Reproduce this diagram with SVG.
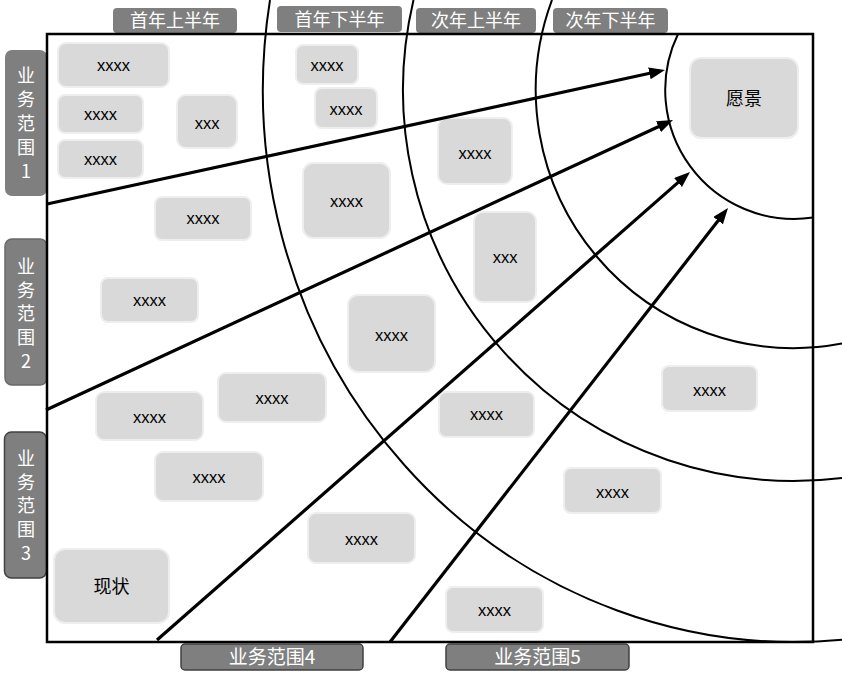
<svg xmlns="http://www.w3.org/2000/svg" width="842" height="678" viewBox="0 0 842 678">
<defs>
<style>
.node rect{fill:#d9d9d9;stroke:#eeeeee;stroke-width:2}
.node text{font-family:"Liberation Sans","Noto Sans CJK SC",sans-serif;font-size:16.5px;fill:#000;text-anchor:middle}
.node text.cn{font-size:18px}
.hdr rect{fill:#7f7f7f}
.hdr text{font-family:"Noto Sans CJK SC","Liberation Sans",sans-serif;font-size:18px;fill:#fff;text-anchor:middle}
.vtx{font-family:"Noto Sans CJK SC","Liberation Sans",sans-serif;font-size:18px;fill:#fff;text-anchor:middle}
.arc{fill:none;stroke:#000;stroke-width:2}
.arr{fill:none;stroke:#000;stroke-width:3.2}
</style>
<marker id="ah" viewBox="0 0 16 12" refX="4" refY="6" markerWidth="16" markerHeight="12" markerUnits="userSpaceOnUse" orient="auto">
<path d="M0,0 L16,6 L0,12 z" fill="#000"/>
</marker>
</defs>
<rect width="842" height="678" fill="#fff"/>

<g id="headers" class="hdr">
<g id="h1"><rect x="113" y="8" width="124" height="25" rx="4"/><text x="175" y="27">首年上半年</text></g>
<g id="h2"><rect x="277" y="6" width="125" height="26" rx="4"/><text x="339.5" y="25.5">首年下半年</text></g>
<g id="h3"><rect x="416" y="8" width="120" height="25" rx="4"/><text x="476" y="27">次年上半年</text></g>
<g id="h4"><rect x="553" y="8" width="115" height="25" rx="4"/><text x="610.5" y="27">次年下半年</text></g>
<g id="r1"><rect x="5" y="50" width="42" height="146" rx="7" fill="#bfbfbf"/>
<text class="vtx"><tspan x="26" y="82">业</tspan><tspan x="26" y="106">务</tspan><tspan x="26" y="130">范</tspan><tspan x="26" y="154">围</tspan><tspan x="26" y="178">1</tspan></text></g>
<g id="r2"><rect x="5" y="239" width="42" height="146" rx="7" fill="#7f7f7f" stroke="#6a6a6a" stroke-width="1.5"/>
<text class="vtx"><tspan x="26" y="272.5">业</tspan><tspan x="26" y="296.5">务</tspan><tspan x="26" y="320">范</tspan><tspan x="26" y="344">围</tspan><tspan x="26" y="368">2</tspan></text></g>
<g id="r3"><rect x="4.5" y="432" width="42" height="146" rx="7" fill="#7f7f7f" stroke="#404040" stroke-width="1.5"/>
<text class="vtx"><tspan x="26" y="464.5">业</tspan><tspan x="26" y="488.5">务</tspan><tspan x="26" y="512">范</tspan><tspan x="26" y="536">围</tspan><tspan x="26" y="560">3</tspan></text></g>
<g id="r4"><rect x="181" y="644" width="182" height="26" rx="4" fill="#7f7f7f" stroke="#404040" stroke-width="1.5"/><text x="272" y="664" style="font-size:19px">业务范围4</text></g>
<g id="r5"><rect x="446" y="644" width="183" height="26" rx="4" fill="#7f7f7f" stroke="#404040" stroke-width="1.5"/><text x="537.5" y="664" style="font-size:19px">业务范围5</text></g>
</g>

<rect id="frame" x="47" y="34" width="766" height="608" fill="none" stroke="#000" stroke-width="2.5"/>

<g id="nodes">
<g id="n1" class="node"><rect x="58" y="43" width="111" height="44" rx="8"/><text x="113.5" y="71">xxxx</text></g>
<g id="n2" class="node"><rect x="58" y="95" width="85" height="38" rx="7"/><text x="100.5" y="120">xxxx</text></g>
<g id="n3" class="node"><rect x="58" y="140" width="85" height="38" rx="7"/><text x="100.5" y="165">xxxx</text></g>
<g id="n4" class="node"><rect x="177" y="95" width="60" height="53" rx="9"/><text x="207" y="129">xxx</text></g>
<g id="n5" class="node"><rect x="296" y="45" width="62" height="39" rx="7"/><text x="327" y="71">xxxx</text></g>
<g id="n6" class="node"><rect x="315" y="88" width="62" height="40" rx="7"/><text x="346" y="115">xxxx</text></g>
<g id="n7" class="node"><rect x="303" y="163" width="87" height="75" rx="10"/><text x="346.5" y="207">xxxx</text></g>
<g id="n8" class="node"><rect x="155" y="197" width="96" height="43" rx="7"/><text x="203" y="224">xxxx</text></g>
<g id="n9" class="node"><rect x="438" y="118" width="74" height="66" rx="9"/><text x="475" y="159">xxxx</text></g>
<g id="n10" class="node"><rect x="474" y="212" width="62" height="90" rx="9"/><text x="505" y="263">xxx</text></g>
<g id="n11" class="node"><rect x="101" y="278" width="97" height="44" rx="7"/><text x="149.5" y="306">xxxx</text></g>
<g id="n12" class="node"><rect x="348" y="295" width="87" height="77" rx="10"/><text x="391.5" y="341">xxxx</text></g>
<g id="n13" class="node"><rect x="96" y="392" width="107" height="48" rx="8"/><text x="149.5" y="423">xxxx</text></g>
<g id="n14" class="node"><rect x="218" y="373" width="108" height="49" rx="8"/><text x="272" y="404">xxxx</text></g>
<g id="n15" class="node"><rect x="155" y="452" width="108" height="49" rx="8"/><text x="209" y="483">xxxx</text></g>
<g id="n16" class="node"><rect x="439" y="392" width="95" height="45" rx="7"/><text x="486.5" y="420">xxxx</text></g>
<g id="n17" class="node"><rect x="662" y="366" width="95" height="45" rx="7"/><text x="709.5" y="396">xxxx</text></g>
<g id="n18" class="node"><rect x="564" y="468" width="97" height="45" rx="7"/><text x="612.5" y="498">xxxx</text></g>
<g id="n19" class="node"><rect x="308" y="513" width="107" height="50" rx="8"/><text x="361.5" y="545">xxxx</text></g>
<g id="n20" class="node"><rect x="446" y="587" width="97" height="45" rx="7"/><text x="494.5" y="616">xxxx</text></g>
<g id="n21" class="node"><rect x="54" y="549" width="115" height="74" rx="11"/><text class="cn" x="111.5" y="593">现状</text></g>
<g id="n22" class="node"><rect x="690" y="58" width="108" height="80" rx="11"/><text class="cn" x="744" y="105">愿景</text></g>
</g>

<g id="connectors">
<path class="arc" d="M678,34 A129,129 0 0 0 813,217.6"/>
<path class="arc" d="M552,0 A258,258 0 0 0 842,343.5"/>
<path class="arc" d="M413.5,0 A391,391 0 0 0 842,478"/>
<path class="arc" d="M270,0 A531,552 0 0 0 842,639.7"/>
<line class="arr" x1="47" y1="204" x2="653.3" y2="72.5" marker-end="url(#ah)"/>
<line class="arr" x1="46" y1="410" x2="662.1" y2="125" marker-end="url(#ah)"/>
<line class="arr" x1="157" y1="640" x2="681" y2="179.9" marker-end="url(#ah)"/>
<line class="arr" x1="390" y1="642" x2="720.6" y2="217.5" marker-end="url(#ah)"/>
</g>
</svg>
